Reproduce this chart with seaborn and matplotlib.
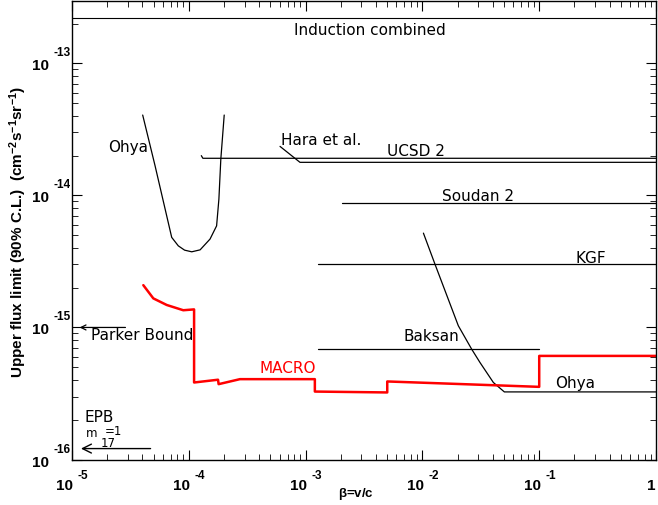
import matplotlib
matplotlib.use("Agg")
import matplotlib.pyplot as plt
import seaborn as sns
import numpy as np
import pandas as pd

# ---- data ----
induction_x = [1e-5, 1.0]
induction_y = [2.2e-13, 2.2e-13]

ohya_left_x = [4.03e-5, 5.14e-5, 7.14e-5, 8.13e-5, 9.2e-5, 1.06e-4, 1.25e-4, 1.52e-4, 1.73e-4, 1.81e-4, 1.88e-4, 2.01e-4]
ohya_left_y = [4.06e-14, 1.68e-14, 4.81e-15, 4.15e-15, 3.85e-15, 3.74e-15, 3.87e-15, 4.67e-15, 5.88e-15, 9.37e-15, 1.88e-14, 4.06e-14]

ucsd_x = [1.28e-4, 1.32e-4, 1.0]
ucsd_y = [2.0e-14, 1.91e-14, 1.91e-14]

hara_x = [6.04e-4, 8.95e-4, 1.0]
hara_y = [2.35e-14, 1.78e-14, 1.78e-14]

soudan_x = [2.05e-3, 1.0]
soudan_y = [8.75e-15, 8.75e-15]

kgf_x = [1.28e-3, 1.0]
kgf_y = [3.02e-15, 3.02e-15]

baksan_x = [1.28e-3, 0.1]
baksan_y = [6.85e-16, 6.85e-16]

ohya_right_x = [1.02e-2, 1.28e-2, 2.03e-2, 2.64e-2, 3.11e-2, 4.05e-2, 5.03e-2, 1.0]
ohya_right_y = [5.18e-15, 3.02e-15, 1.03e-15, 6.85e-16, 5.43e-16, 3.83e-16, 3.25e-16, 3.25e-16]

macro_x = [4.08e-5, 4.97e-5, 6.47e-5, 8.97e-5, 1.11e-4, 1.11e-4, 1.78e-4, 1.8e-4, 2.74e-4, 1.2e-3, 1.2e-3, 5.0e-3, 5.0e-3, 0.1, 0.1, 1.0]
macro_y = [2.09e-15, 1.66e-15, 1.48e-15, 1.35e-15, 1.37e-15, 3.83e-16, 4.02e-16, 3.72e-16, 4.06e-16, 4.06e-16, 3.27e-16, 3.22e-16, 3.90e-16, 3.55e-16, 6.09e-16, 6.09e-16]

parker_x = [3.03e-5, 1.1e-5]
parker_y = [1.0e-15, 1.0e-15]
epb_x = [4.97e-5, 1.13e-5]
epb_y = [1.21e-16, 1.21e-16]

xticks = [1e-5, 1e-4, 1e-3, 1e-2, 1e-1, 1]
xtick_exps = ['-5', '-4', '-3', '-2', '-1', '']
yticks = [1e-16, 1e-15, 1e-14, 1e-13]
ytick_exps = ['-16', '-15', '-14', '-13']

sns.set_theme(style="ticks")
plt.rcParams['font.family'] = ['DejaVu Sans']
plt.rcParams['mathtext.fontset'] = 'custom'
plt.rcParams['mathtext.rm'] = 'Liberation Sans'
plt.rcParams['mathtext.bf'] = 'Liberation Sans:bold'
plt.rcParams['mathtext.it'] = 'Liberation Sans:italic'
for k in ['text.color', 'axes.labelcolor', 'xtick.color', 'ytick.color', 'axes.edgecolor']:
    plt.rcParams[k] = 'black'

fig = plt.figure(figsize=(6.58, 5.06), dpi=100)
ax = fig.add_axes([0.1094, 0.0899, 0.8876, 0.9067])

def draw(xs, ys, color='black', lw=0.9):
    df = pd.DataFrame({'x': xs, 'y': ys})
    sns.lineplot(data=df, x='x', y='y', sort=False, estimator=None, color=color, lw=lw, ax=ax)

draw(induction_x, induction_y, lw=0.8)
draw(ohya_left_x, ohya_left_y)
draw(ucsd_x, ucsd_y)
draw(hara_x, hara_y)
draw(soudan_x, soudan_y)
draw(kgf_x, kgf_y)
draw(baksan_x, baksan_y)
draw(ohya_right_x, ohya_right_y)
draw(macro_x, macro_y, color='red', lw=1.8)

ax.set_xscale('log')
ax.set_yscale('log')
ax.set_xlim(1e-5, 1.0)
ax.set_ylim(1e-16, 2.98e-13)

# arrows
ax.annotate('', xy=(parker_x[1], parker_y[1]), xytext=(parker_x[0], parker_y[0]),
            arrowprops=dict(arrowstyle='->', color='black', lw=0.9, mutation_scale=9))
ax.annotate('', xy=(epb_x[1], epb_y[1]), xytext=(epb_x[0], epb_y[0]),
            arrowprops=dict(arrowstyle='->', color='black', lw=1.0, mutation_scale=16))

# labels
fs = 11
ax.text(3.56e-3, 2.05e-13, 'Induction combined', fontsize=fs, ha='center', va='top')
ax.text(2.03e-5, 2.36e-14, 'Ohya', fontsize=fs, ha='left', va='center')
ax.text(6.15e-4, 2.67e-14, 'Hara et al.', fontsize=fs, ha='left', va='center')
ax.text(8.8e-3, 2.17e-14, 'UCSD 2', fontsize=fs, ha='center', va='center')
ax.text(3.0e-2, 1.0e-14, 'Soudan 2', fontsize=fs, ha='center', va='center')
ax.text(0.278, 3.41e-15, 'KGF', fontsize=fs, ha='center', va='center')
ax.text(1.19e-2, 8.75e-16, 'Baksan', fontsize=fs, ha='center', va='center')
ax.text(0.203, 3.85e-16, 'Ohya', fontsize=fs, ha='center', va='center')
ax.text(7.06e-4, 5.0e-16, 'MACRO', fontsize=fs, ha='center', va='center', color='red')
ax.text(1.45e-5, 8.8e-16, 'Parker Bound', fontsize=fs, ha='left', va='center')
ax.text(1.29e-5, 2.13e-16, 'EPB', fontsize=fs, ha='left', va='center')
ax.text(1.32e-5, 1.61e-16, 'm', fontsize=8.5, ha='left', va='center')
ax.text(1.77e-5, 1.35e-16, '17', fontsize=8.5, ha='left', va='center')
ax.text(1.92e-5, 1.67e-16, '=1', fontsize=8.5, ha='left', va='center')

# ticks (labels drawn as "10" + raised exponent, like the reference)
ax.set_xticks(xticks)
ax.set_xticklabels([])
ax.set_yticks(yticks)
ax.set_yticklabels([])
ax.tick_params(which='major', direction='in', length=7, width=0.8, top=True, right=True)
ax.tick_params(which='minor', direction='in', length=4, width=0.6, top=True, right=True)

P = 0.72  # px -> pt
tfs, sfs = 11, 8.5
for t, e in zip(xticks, xtick_exps):
    if e:
        ax.annotate('10', xy=(t, 0), xycoords=('data', 'axes fraction'), xytext=(-7 * P, -29.5 * P),
                    textcoords='offset points', ha='center', va='baseline', fontsize=tfs,
                    fontweight='bold', fontfamily='Liberation Sans', annotation_clip=False)
        ax.annotate(e, xy=(t, 0), xycoords=('data', 'axes fraction'), xytext=(6 * P, -18.5 * P),
                    textcoords='offset points', ha='left', va='baseline', fontsize=sfs,
                    fontweight='bold', fontfamily='Liberation Sans', annotation_clip=False)
    else:
        ax.annotate('1', xy=(t, 0), xycoords=('data', 'axes fraction'), xytext=(-5 * P, -29.5 * P),
                    textcoords='offset points', ha='center', va='baseline', fontsize=tfs,
                    fontweight='bold', fontfamily='Liberation Sans', annotation_clip=False)
for t, e in zip(yticks, ytick_exps):
    ax.annotate('10', xy=(0, t), xycoords=('axes fraction', 'data'), xytext=(-22.5 * P, -6 * P),
                textcoords='offset points', ha='right', va='baseline', fontsize=tfs,
                fontweight='bold', fontfamily='Liberation Sans', annotation_clip=False)
    ax.annotate(e, xy=(0, t), xycoords=('axes fraction', 'data'), xytext=(-1.5 * P, 8 * P),
                textcoords='offset points', ha='right', va='baseline', fontsize=sfs,
                fontweight='bold', fontfamily='Liberation Sans', annotation_clip=False)

for s in ax.spines.values():
    s.set_linewidth(1.0)
    s.set_color('black')

ax.set_xlabel(r'$\mathbf{\beta}$=v/c', fontsize=9.5, fontweight='bold', fontfamily='Liberation Sans')
ax.xaxis.label.set_verticalalignment('center')
ax.xaxis.set_label_coords(0.486, -0.074)
ax.set_ylabel(r'Upper flux limit (90% C.L.)  (cm$^{\mathbf{-2}}$s$^{\mathbf{-1}}$sr$^{\mathbf{-1}}$)',
              fontsize=11, fontweight='bold', fontfamily='Liberation Sans')
ax.yaxis.label.set_verticalalignment('center')
ax.yaxis.set_label_coords(-0.0925, 0.497)

fig.savefig('out.png', dpi=100)
